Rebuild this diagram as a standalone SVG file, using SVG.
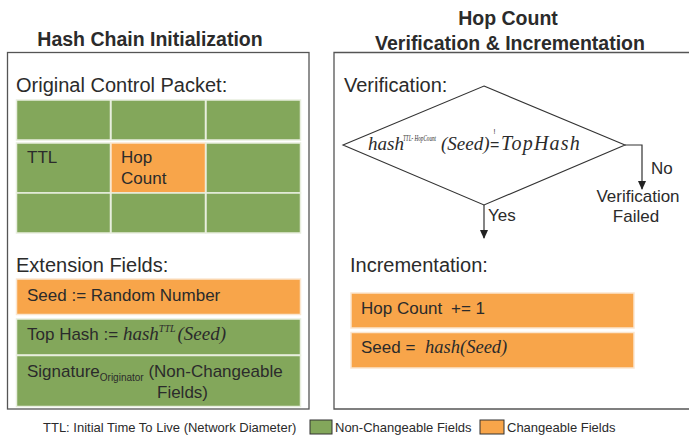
<svg xmlns="http://www.w3.org/2000/svg" width="689" height="436" viewBox="0 0 689 436">
<style>
.s{font-family:"Liberation Sans",Arial,sans-serif;fill:#2b2b2b}
.h{font-family:"Liberation Sans",Arial,sans-serif;font-weight:bold;font-size:19.5px;fill:#2b2b2b}
.m{font-family:"Liberation Serif","Times New Roman",serif;font-style:italic;fill:#2b2b2b}
.g{fill:#83a75b;stroke:#e8eede;stroke-width:1.5}
.o{fill:#f8a54a;stroke:#fbe6cf;stroke-width:1.5}
.frame{fill:none;stroke:#555;stroke-width:1.3}
.ln{fill:none;stroke:#333;stroke-width:1.2}
</style>
<defs>
<marker id="ah" markerWidth="9" markerHeight="8" refX="8" refY="4" orient="auto" markerUnits="userSpaceOnUse" viewBox="0 0 9 8">
<path d="M0,0 L9,4 L0,8 Z" fill="#222"/>
</marker>
</defs>
<rect width="689" height="436" fill="#fff"/>
<g id="left-panel">
<text class="h" x="150" y="46" text-anchor="middle">Hash Chain Initialization</text>
<rect class="frame" x="7.5" y="52.5" width="301.5" height="356.5"/>
<text class="s" x="16" y="92" font-size="20">Original Control Packet:</text>
<g id="packet">
<rect class="g" x="16.5" y="100" width="94" height="40"/>
<rect class="g" x="111" y="100" width="94.5" height="40"/>
<rect class="g" x="206" y="100" width="94.5" height="40"/>
<rect class="g" x="16.5" y="143" width="94" height="50"/>
<rect class="o" x="111" y="143" width="94.5" height="50"/>
<rect class="g" x="206" y="143" width="94.5" height="50"/>
<rect class="g" x="16.5" y="193" width="94" height="40"/>
<rect class="g" x="111" y="193" width="94.5" height="40"/>
<rect class="g" x="206" y="193" width="94.5" height="40"/>
<text class="s" x="27" y="163" font-size="17">TTL</text>
<text class="s" x="121" y="163" font-size="17">Hop</text>
<text class="s" x="121" y="184" font-size="17">Count</text>
</g>
<text class="s" x="16" y="272" font-size="20">Extension Fields:</text>
<g id="seed-field">
<rect class="o" x="16.5" y="279" width="284" height="35.5"/>
<text class="s" x="27" y="301" font-size="17">Seed := Random Number</text>
</g>
<g id="tophash-field">
<rect class="g" x="16.5" y="319" width="284" height="36"/>
<text class="s" x="27" y="340" font-size="17">Top Hash := <tspan class="m" font-size="19">hash</tspan><tspan class="m" font-size="10" dy="-8">TTL</tspan><tspan class="m" font-size="19" dy="8" dx="2">(Seed)</tspan></text>
</g>
<g id="signature-field">
<rect class="g" x="16.5" y="355.5" width="284" height="51"/>
<text class="s" x="27" y="377" font-size="17">Signature<tspan font-size="10" dy="4">Originator</tspan><tspan dy="-4"> (Non-Changeable</tspan></text>
<text class="s" x="157" y="398" font-size="17">Fields)</text>
</g>
</g>
<g id="right-panel">
<text class="h" x="508" y="25" text-anchor="middle">Hop Count</text>
<text class="h" x="510" y="50" text-anchor="middle">Verification &amp; Incrementation</text>
<path class="frame" d="M689,52.5 H334 V409 H689"/>
<text class="s" x="344" y="92" font-size="20">Verification:</text>
<g id="decision">
<polygon points="484,86 625,145 484,205 343,145" fill="#fff" stroke="#333" stroke-width="1.1"/>
<text class="m" y="150" font-size="19"><tspan x="368">hash</tspan><tspan x="403" y="141" font-size="7.5" textLength="33" lengthAdjust="spacingAndGlyphs">TTL- HopCount</tspan><tspan x="441" y="150">(Seed)</tspan><tspan x="490" font-style="normal" font-size="16" font-family="Liberation Sans,Arial,sans-serif">=</tspan><tspan x="501" font-size="20" letter-spacing="1.2">TopHash</tspan></text>
<text x="494.5" y="134" font-size="7" font-family="Liberation Sans,Arial,sans-serif" fill="#2b2b2b" text-anchor="middle">!</text>
</g>
<g id="fail">
<text class="s" x="638" y="202" font-size="17" text-anchor="middle">Verification</text>
<text class="s" x="636" y="222" font-size="17" text-anchor="middle">Failed</text>
</g>
<text class="s" x="350" y="272" font-size="20">Incrementation:</text>
<g id="hopcount-inc">
<rect class="o" x="351" y="293" width="283" height="35"/>
<text class="s" x="361" y="314" font-size="17">Hop Count<tspan x="451">+= 1</tspan></text>
</g>
<g id="seed-inc">
<rect class="o" x="351" y="332.5" width="283" height="35.5"/>
<text class="s" x="361" y="353" font-size="17">Seed = <tspan class="m" font-size="18.5" dx="5">hash</tspan><tspan class="m" font-size="18.5">(Seed)</tspan></text>
</g>
</g>
<g id="connectors">
<path class="ln" d="M484,205 V238" marker-end="url(#ah)"/>
<text class="s" x="488" y="221" font-size="17">Yes</text>
<path class="ln" d="M625,145 H642 V189" marker-end="url(#ah)"/>
<text class="s" x="651" y="174" font-size="17">No</text>
</g>
<g id="legend">
<text class="s" x="43" y="432" font-size="13">TTL: Initial Time To Live (Network Diameter)</text>
<rect x="310" y="420" width="22" height="14" fill="#83a75b" stroke="#333" stroke-width="1"/>
<text class="s" x="335" y="432" font-size="13">Non-Changeable Fields</text>
<rect x="480" y="420" width="24" height="14" fill="#f8a54a" stroke="#333" stroke-width="1"/>
<text class="s" x="507" y="432" font-size="13">Changeable Fields</text>
</g>
</svg>
